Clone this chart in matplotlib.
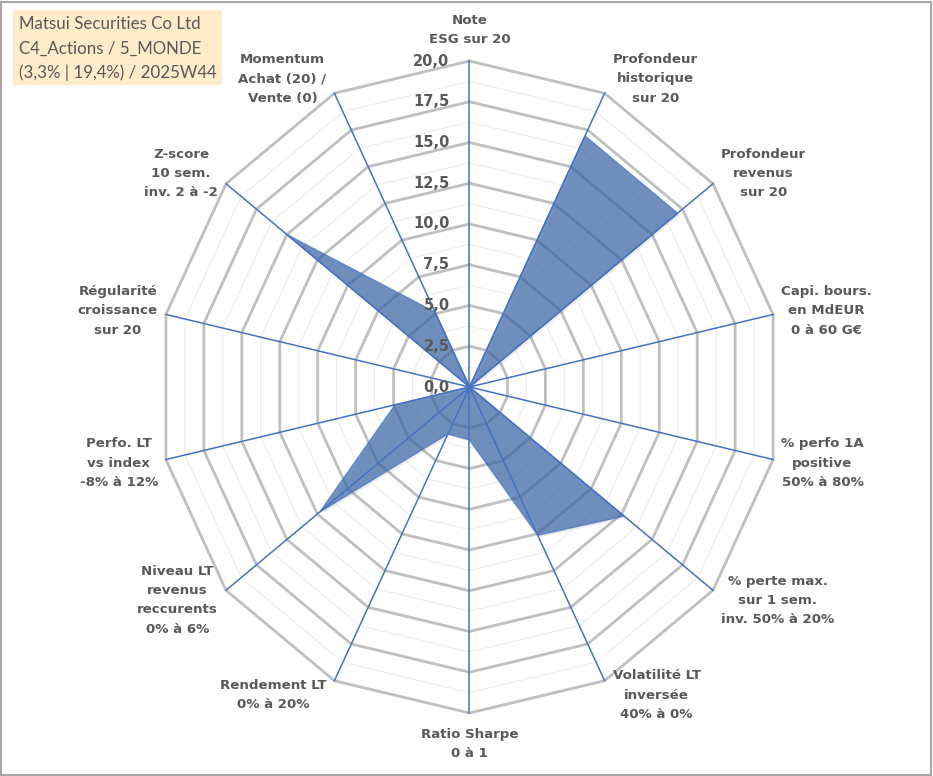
import matplotlib.pyplot as plt
from matplotlib.patches import Rectangle
import numpy as np

# axes of the radar, clockwise from the top
labels = [
    "Note\nESG sur 20",
    "Profondeur\nhistorique\nsur 20",
    "Profondeur\nrevenus\nsur 20",
    "Capi. bours.\nen MdEUR\n0 à 60 G€",
    "% perfo 1A\npositive\n50% à 80%",
    "% perte max.\nsur 1 sem.\ninv. 50% à 20%",
    "Volatilité LT\ninversée\n40% à 0%",
    "Ratio Sharpe\n0 à 1",
    "Rendement LT\n0% à 20%",
    "Niveau LT\nrevenus\nreccurents\n0% à 6%",
    "Perfo. LT\nvs index\n-8% à 12%",
    "Régularité\ncroissance\nsur 20",
    "Z-score\n10 sem.\ninv. 2 à -2",
    "Momentum\nAchat (20) /\nVente (0)",
]
scores = [0, 17.1, 17.1, 0, 0, 12.7, 10.1, 3.25, 3.2, 12.3, 4.9, 0, 15.0, 5.1]
tick_values = [0, 2.5, 5, 7.5, 10, 12.5, 15, 17.5, 20]
tick_labels = ["0,0", "2,5", "5,0", "7,5", "10,0", "12,5", "15,0", "17,5", "20,0"]
title_lines = ["Matsui Securities Co Ltd", "C4_Actions / 5_MONDE", "(3,3% | 19,4%) / 2025W44"]

n = len(labels)
ang = np.pi / 2 - np.arange(n) * 2 * np.pi / n
ca, sa = np.cos(ang), np.sin(ang)
rmax = 20

W, H = 933, 776
fig = plt.figure(figsize=(W / 100, H / 100), dpi=100)
ax = fig.add_axes([0, 0, 1, 1])
# chart is a bit squeezed sideways: 15.57 px/unit in x, 16.3 px/unit in y
cx, cy = 469.5, 387
sx, sy = 15.57, 16.3
ax.set_xlim(-cx / sx, (W - cx) / sx)
ax.set_ylim(-(H - cy) / sy, cy / sy)
ax.axis("off")

grey_txt = "#595959"
pt = 0.72  # points per pixel

# minor rings
for r in np.arange(1.25, rmax, 2.5):
    ax.plot(np.append(r * ca, r * ca[0]), np.append(r * sa, r * sa[0]),
            color="#ececec", lw=0.8, zorder=1)
# major rings
for r in tick_values[1:]:
    ax.plot(np.append(r * ca, r * ca[0]), np.append(r * sa, r * sa[0]),
            color="#bfbfbf", lw=2.0, zorder=1, solid_joinstyle="miter")

# data polygon (with a faint shadow offset down-right)
sc = np.array(scores)
ax.fill(sc * ca + 2 / sx, sc * sa - 2 / sy, facecolor="#000000", alpha=0.08,
        edgecolor="none", zorder=1.5)
ax.fill(sc * ca, sc * sa, facecolor="#3a67a8", alpha=0.7, edgecolor="#4472c4",
        lw=1.0, zorder=2)

# spokes
for c, si in zip(ca, sa):
    ax.plot([0, rmax * c], [0, rmax * si], color="#4472c4", lw=1.1, zorder=3)

# radial tick labels
for v, t in zip(tick_values, tick_labels):
    ax.annotate(t, (0, v), xytext=(-20 * pt, 0), textcoords="offset points",
                ha="right", va="center", fontsize=10.5, fontweight="bold",
                color=grey_txt, zorder=4)

# axis labels, placed next to the outer vertex like Excel does
for lab, c, si in zip(labels, ca, sa):
    if abs(c) < 0.1:
        off = (0, 15 * np.sign(si))
        ha, va = "center", ("bottom" if si > 0 else "top")
    else:
        off = (8 * np.sign(c), 16 * si)
        ha, va = ("left" if c > 0 else "right"), "center"
    ax.annotate(lab, (rmax * c, rmax * si), xytext=(off[0] * pt, off[1] * pt),
                textcoords="offset points", ha=ha, va=va, multialignment="center",
                fontsize=9.6, fontweight="bold", color=grey_txt,
                linespacing=1.62, zorder=4)

# info box top left
fig.patches.append(Rectangle((13 / W, 1 - 85 / H), 209 / W, 75 / H,
                             transform=fig.transFigure, facecolor="#fdebc9",
                             edgecolor="none", zorder=0))
for i, line in enumerate(title_lines):
    fig.text(19 / W, 1 - (24 + 24.5 * i) / H, line, ha="left", va="center",
             fontsize=12.2, family="Lato", color=grey_txt)

# outer border
fig.patches.append(Rectangle((1 / W, 1 / H), 930 / W, 773 / H,
                             transform=fig.transFigure, facecolor="none",
                             edgecolor="#a6a6a6", lw=1.5))

fig.savefig("out.png", dpi=100, facecolor="white")
